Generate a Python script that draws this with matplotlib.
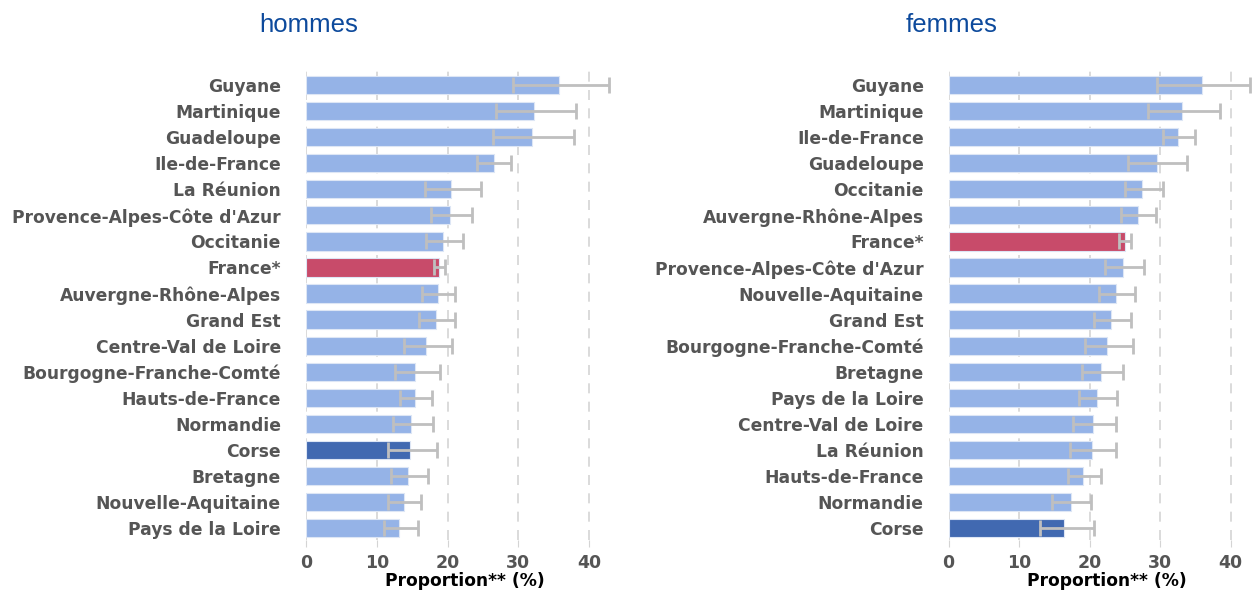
import numpy as np
import matplotlib.pyplot as plt

# hommes
regions_h = ["Guyane", "Martinique", "Guadeloupe", "Ile-de-France", "La Réunion",
             "Provence-Alpes-Côte d'Azur", "Occitanie", "France*", "Auvergne-Rhône-Alpes",
             "Grand Est", "Centre-Val de Loire", "Bourgogne-Franche-Comté", "Hauts-de-France",
             "Normandie", "Corse", "Bretagne", "Nouvelle-Aquitaine", "Pays de la Loire"]
val_h = [35.7, 32.2, 31.9, 26.6, 20.5, 20.4, 19.4, 18.8, 18.6, 18.4, 16.9, 15.4, 15.4,
         14.9, 14.7, 14.4, 13.8, 13.2]
low_h = [29.2, 26.9, 26.4, 24.2, 16.8, 17.6, 16.9, 18.1, 16.4, 15.9, 13.9, 12.6, 13.3,
         12.3, 11.6, 12.0, 11.6, 11.0]
high_h = [42.8, 38.2, 37.9, 29.0, 24.7, 23.4, 22.2, 19.7, 21.1, 21.0, 20.6, 18.9, 17.8,
          17.9, 18.5, 17.2, 16.2, 15.8]

# femmes
regions_f = ["Guyane", "Martinique", "Ile-de-France", "Guadeloupe", "Occitanie",
             "Auvergne-Rhône-Alpes", "France*", "Provence-Alpes-Côte d'Azur",
             "Nouvelle-Aquitaine", "Grand Est", "Bourgogne-Franche-Comté", "Bretagne",
             "Pays de la Loire", "Centre-Val de Loire", "La Réunion", "Hauts-de-France",
             "Normandie", "Corse"]
val_f = [35.9, 33.1, 32.6, 29.5, 27.5, 26.9, 25.0, 24.8, 23.8, 23.1, 22.5, 21.6, 21.1,
         20.5, 20.3, 19.1, 17.3, 16.4]
low_f = [29.5, 28.3, 30.4, 25.5, 25.0, 24.4, 24.2, 22.2, 21.4, 20.6, 19.3, 18.9, 18.5,
         17.6, 17.2, 17.0, 14.7, 13.0]
high_f = [42.8, 38.5, 35.0, 33.8, 30.4, 29.4, 25.9, 27.7, 26.4, 25.8, 26.1, 24.7, 23.9,
          23.8, 23.8, 21.6, 20.2, 20.6]

ticks = [0, 10, 20, 30, 40]

C_BAR = "#95b3e7"
C_FRANCE = "#c84b6a"
C_CORSE = "#4169b1"
C_ERR = "#bfbfbf"
C_TXT = "#555555"

plt.rcParams["font.family"] = "DejaVu Sans"


def draw_panel(ax, names, vals, lows, highs, title, title_x):
    y = np.arange(len(names))
    colors = [C_FRANCE if n == "France*" else C_CORSE if n == "Corse" else C_BAR
              for n in names]
    vals = np.array(vals)
    err = [vals - np.array(lows), np.array(highs) - vals]

    for t in ticks:
        ax.axvline(t, color="#d4d4d4", lw=1.2, ls=(0, (6, 5)), zorder=0)
    ax.barh(y, vals, height=0.7, color=colors, edgecolor="#dde6f5", lw=0.8, zorder=2)
    ax.errorbar(vals, y, xerr=err, fmt="none", ecolor=C_ERR, elinewidth=2,
                capsize=5.5, capthick=2, zorder=3, clip_on=False)

    ax.set_ylim(len(names) - 0.54, -0.58)
    ax.set_xlim(0, 43)
    ax.set_yticks(y)
    ax.set_yticklabels(names, fontsize=12.3, fontweight="bold", color=C_TXT)
    ax.set_xticks(ticks)
    ax.set_xticklabels([str(t) for t in ticks], fontsize=12.5, fontweight="bold",
                       color=C_TXT)
    ax.tick_params(axis="y", length=0, pad=18)
    ax.tick_params(axis="x", length=5, color="#d4d4d4", pad=5)
    ax.set_xlabel("Proportion** (%)", fontsize=12.3, fontweight="bold", color="black",
                  labelpad=0)
    ax.xaxis.label.set_x(0.523)
    for s in ax.spines.values():
        s.set_visible(False)
    fig.text(title_x, 0.9468, title, fontsize=18.5, color="#0d4a9c",
             family="Liberation Sans", ha="center", va="baseline")


fig = plt.figure(figsize=(12.52, 5.95), dpi=100)
ax1 = fig.add_axes([0.2444, 0.0924, 0.2431, 0.790])
ax2 = fig.add_axes([0.7577, 0.0924, 0.2421, 0.790])

draw_panel(ax1, regions_h, val_h, low_h, high_h, "hommes", 0.2464)
draw_panel(ax2, regions_f, val_f, low_f, high_f, "femmes", 0.760)

fig.savefig("out.png", dpi=100)
